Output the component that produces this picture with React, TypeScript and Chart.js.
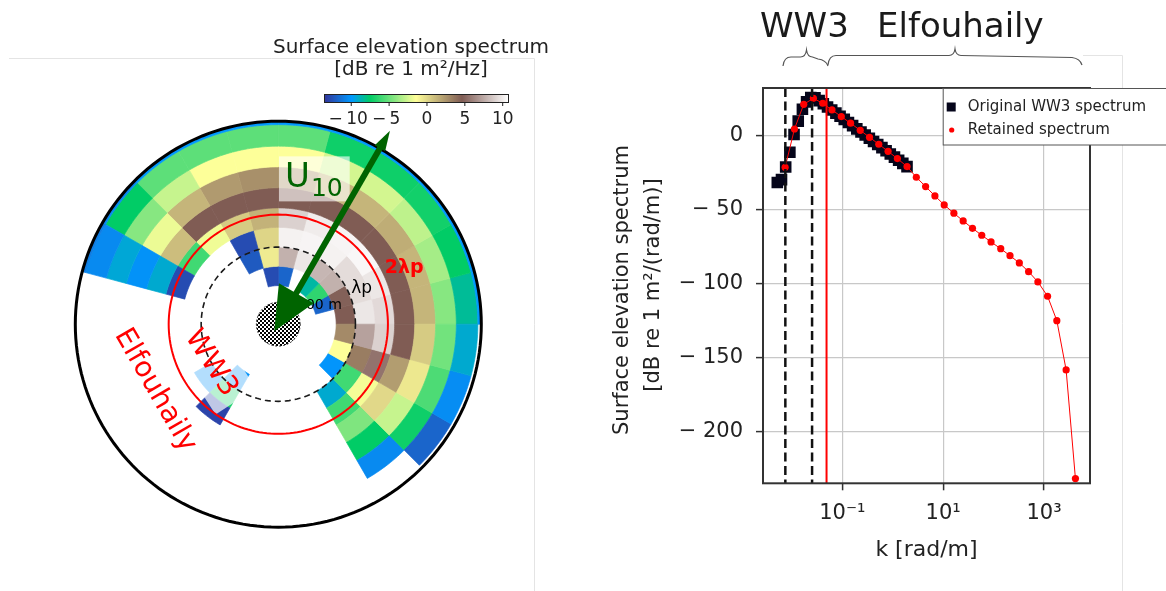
import React, { useEffect, useRef } from 'react';
import { Chart, registerables } from 'chart.js';

Chart.register(...registerables);

const FONT = '"DejaVu Sans", Verdana, sans-serif';

// ---------------- Right panel: omnidirectional spectrum ----------------
const ww3K = [0.005129, 0.006209, 0.007516, 0.009099, 0.011015, 0.013335, 0.016144, 0.019543, 0.023659, 0.028642, 0.034674, 0.041976, 0.050816, 0.061518, 0.074473, 0.090157, 0.10914, 0.13213, 0.15996, 0.19364, 0.23442, 0.28379, 0.34356, 0.41591, 0.5035, 0.60954, 0.7379, 0.89331, 1.0814, 1.3092, 1.5849, 1.9187];
const ww3Db = [-31.5, -29.5, -21.0, -11.0, 1.0, 10.0, 18.0, 23.0, 26.0, 25.8, 23.9, 21.8, 19.6, 17.5, 15.4, 13.3, 11.2, 9.1, 7.0, 4.8, 2.7, 0.6, -1.6, -3.7, -5.8, -7.9, -10.0, -12.2, -14.3, -16.4, -18.5, -20.7];
const retainedK = [0.00733, 0.01122, 0.01715, 0.02667, 0.04074, 0.06223, 0.0953, 0.1456, 0.2264, 0.3459, 0.5284, 0.8072, 1.236, 1.922, 2.937, 4.487, 6.866, 10.49, 16.32, 24.93, 38.16, 58.3, 89.1, 138.7, 211.9, 324.3, 495.5, 757.2, 1178, 1800, 2752, 4207];
const retainedDb = [-21.2, 4.7, 21.4, 25.4, 22.1, 17.6, 13.1, 8.6, 3.8, -0.9, -5.6, -10.4, -15.3, -20.7, -27.9, -34.2, -40.5, -46.6, -52.2, -57.4, -62.4, -67.1, -71.6, -76.2, -80.9, -85.8, -91.7, -98.6, -108.3, -124.8, -158.1, -231.5];
const ww3CutoffK = [0.0074, 0.0251];
const peakK = 0.0486;
const kRange = [0.002667, 8185];
const dbRange = [-234.7, 32.4];
const kTicks = [0.1, 10, 1000];
const kTickLabels = ['10⁻¹', '10¹', '10³'];
const dbTicks = [-200, -150, -100, -50, 0];
const dbTickLabels = ['− 200', '− 150', '− 100', '− 50', '0'];
const seriesLabels = ['Original WW3 spectrum', 'Retained spectrum'];
const modelLabels = ['WW3', 'Elfouhaily'];

// ---------------- Left panel: directional spectrum ----------------
const N = null;
const directionBinDeg = 15;
const ringEdges = [0.19, 0.285, 0.38, 0.477, 0.573, 0.672, 0.775, 0.877, 0.983, 1.08];
// rows: direction bins starting at 0 deg (east), counter-clockwise; columns: rings inner -> outer
const spectrumDb = [
  [N, 4.6, 9.8, 9.3, 4.6, 1.3, -4.3, -8.3, -10],
  [-11.8, 4.8, 9.4, 9.8, 4.6, 1.3, -3.6, -7.5, -10],
  [-6.4, 7.8, 9.4, 10.4, 4.6, 1.6, -3, -7.1, -10],
  [-8.5, 8.0, 10.2, 10.3, 4.6, 1.3, -2.5, -7.2, -10],
  [N, 9.8, 10.3, 10.0, 4.6, 1.3, -2.5, -7.2, -10],
  [-11.8, 7.8, 10.2, 9.0, 4.6, 2.3, -1.5, -5.3, -10],
  [-12.7, -0.7, 0.1, 1.4, 4.6, 2.7, -1.5, -5.3, -10],
  [N, -12.2, -12.7, 0.5, 4.6, 2.3, -1.5, -5.3, -10],
  [N, N, N, -1.8, 4.6, 1.3, -2.8, -5.3, -10],
  [N, N, N, -6, 1.0, -1.9, -4.3, -7.5, -10.5],
  [N, N, N, -12.7, -9.2, -10.2, -9.3, -10.5, -11],
  [N, N, N, N, N, N, N, N, N],
  [N, N, N, N, N, N, N, N, N],
  [N, N, N, N, N, N, N, N, N],
  [N, N, -10.2, N, N, N, N, N, N],
  [N, -10.2, -7, -13, N, N, N, N, N],
  [N, N, N, N, N, N, N, N, N],
  [N, N, N, N, N, N, N, N, N],
  [N, N, N, N, N, N, N, N, N],
  [N, N, N, N, N, N, N, N, N],
  [N, N, -9.2, -6, -4.5, -7.5, -10.5, N, N],
  [N, -10.1, -6, -1.7, 0, -2.8, -7.2, -11.8, N],
  [N, -1.5, 3.4, 5.5, 2.2, -0.6, -5.7, -10.4, N],
  [N, 2.9, 7.2, 9.0, 4.6, 0.5, -4.8, -9.2, N],
];
const colorbarRange = [-13.6, 10.7];
const colorbarTicks = [-10, -5, 0, 5, 10];
const colorbarTickLabels = ['−\u200910', '−\u20095', '0', '5', '10'];
const colorbarTitle = ['Surface elevation spectrum', '[dB re 1 m²/Hz]'];
const terrainStops = [
  [0, 0.2, 0.2, 0.6],
  [0.15, 0.0, 0.6, 1.0],
  [0.25, 0.0, 0.8, 0.4],
  [0.5, 1.0, 1.0, 0.6],
  [0.75, 0.5, 0.36, 0.33],
  [1.0, 1.0, 1.0, 1.0],
];
const lambdaPRadius = 0.38;
const twoLambdaPRadius = 0.54;
const hatchRadius = 0.108;
const windFromDeg = 60;
const arrowTailR = 1.1;
const arrowTipR = 0.04;

function terrain(v) {
  const lo = colorbarRange[0], hi = colorbarRange[1];
  let t = (v - lo) / (hi - lo);
  t = Math.max(0, Math.min(1, t));
  for (let i = 1; i < terrainStops.length; i++) {
    const a = terrainStops[i - 1], b = terrainStops[i];
    if (t <= b[0]) {
      const f = (t - a[0]) / (b[0] - a[0]);
      const c = [1, 2, 3].map((k) => Math.round(255 * (a[k] + (b[k] - a[k]) * f)));
      return 'rgb(' + c[0] + ',' + c[1] + ',' + c[2] + ')';
    }
  }
  return 'rgb(255,255,255)';
}

const polarPlugin = {
  id: 'polarSpectrum',
  afterDraw(chart) {
    const ctx = chart.ctx;
    const xs = chart.scales.x, ys = chart.scales.y;
    const Q = (x, y) => [xs.getPixelForValue(x), ys.getPixelForValue(y)];
    const P = (r, deg) => {
      const a = (deg * Math.PI) / 180;
      return Q(r * Math.cos(a), r * Math.sin(a));
    };
    const ring = (r) => {
      ctx.beginPath();
      for (let a = 0; a <= 360; a += 2) {
        const p = P(r, a);
        if (a === 0) ctx.moveTo(p[0], p[1]); else ctx.lineTo(p[0], p[1]);
      }
      ctx.closePath();
    };
    ctx.save();
    // panel frame
    ctx.strokeStyle = '#e4e4e4';
    ctx.lineWidth = 1;
    ctx.beginPath();
    ctx.moveTo(9, 58.5); ctx.lineTo(534.5, 58.5); ctx.lineTo(534.5, 591);
    ctx.stroke();

    // spectral cells
    spectrumDb.forEach((row, d) => {
      row.forEach((v, j) => {
        if (v === null) return;
        const r0 = ringEdges[j];
        const r1 = Math.min(ringEdges[j + 1], 1);
        const a0 = d * directionBinDeg, a1 = a0 + directionBinDeg;
        ctx.beginPath();
        for (let a = a0; a <= a1; a += 1) {
          const p = P(r1, a);
          if (a === a0) ctx.moveTo(p[0], p[1]); else ctx.lineTo(p[0], p[1]);
        }
        for (let a = a1; a >= a0; a -= 1) {
          const p = P(r0, a);
          ctx.lineTo(p[0], p[1]);
        }
        ctx.closePath();
        const col = terrain(v);
        ctx.fillStyle = col;
        ctx.fill();
        ctx.strokeStyle = col;
        ctx.lineWidth = 0.7;
        ctx.stroke();
      });
    });

    // U10 label box
    const u = Q(0.033, 0.674);
    ctx.font = '34px ' + FONT;
    const uw = ctx.measureText('U').width;
    ctx.font = '25px ' + FONT;
    const sw = ctx.measureText('10').width;
    ctx.fillStyle = 'rgba(255,255,255,0.62)';
    ctx.fillRect(u[0] - 6, u[1] - 31, uw + sw + 14, 45);

    // WW3 label box (rotated)
    const ww = Q(-0.332, -0.192);
    ctx.font = '28px ' + FONT;
    const wwW = ctx.measureText(modelLabels[0]).width;
    ctx.save();
    ctx.translate(ww[0], ww[1]);
    ctx.rotate((57 * Math.PI) / 180);
    ctx.fillStyle = 'rgba(255,255,255,0.7)';
    ctx.fillRect(-wwW / 2 - 9, -24, wwW + 18, 48);
    ctx.restore();

    // reference circles
    ctx.lineWidth = 2;
    ctx.strokeStyle = '#ff0000';
    ring(twoLambdaPRadius);
    ctx.stroke();
    ctx.setLineDash([6, 4]);
    ctx.lineWidth = 1.6;
    ctx.strokeStyle = '#1a1a1a';
    ring(lambdaPRadius);
    ctx.stroke();
    ctx.setLineDash([]);
    ctx.lineWidth = 3;
    ctx.strokeStyle = '#000';
    ring(1);
    ctx.stroke();

    // hatched centre
    const pc = document.createElement('canvas');
    pc.width = 4; pc.height = 4;
    const g = pc.getContext('2d');
    g.fillStyle = '#fff'; g.fillRect(0, 0, 4, 4);
    g.fillStyle = '#000'; g.fillRect(0, 0, 2, 2); g.fillRect(2, 2, 2, 2);
    ctx.fillStyle = ctx.createPattern(pc, 'repeat');
    ring(hatchRadius);
    ctx.fill();
    ctx.setLineDash([2, 2]);
    ctx.lineWidth = 1;
    ctx.strokeStyle = '#333';
    ctx.stroke();
    ctx.setLineDash([]);

    // labels
    ctx.fillStyle = '#006400';
    ctx.textAlign = 'left';
    ctx.textBaseline = 'alphabetic';
    ctx.font = '34px ' + FONT;
    ctx.fillText('U', u[0], u[1]);
    ctx.font = '25px ' + FONT;
    ctx.fillText('10', u[0] + uw + 1, u[1] + 9);

    ctx.fillStyle = '#000';
    ctx.font = '14px ' + FONT;
    ctx.textBaseline = 'middle';
    const m5 = Q(0.092, 0.095);
    ctx.fillText('500 m', m5[0], m5[1]);

    ctx.textAlign = 'center';
    ctx.font = '17px ' + FONT;
    const lp = Q(0.411, 0.177);
    ctx.fillText('λp', lp[0], lp[1]);
    ctx.fillStyle = '#ff0000';
    ctx.font = 'bold 19px ' + FONT;
    const l2 = Q(0.62, 0.275);
    ctx.fillText('2λp', l2[0], l2[1]);

    ctx.font = '28px ' + FONT;
    const el = Q(-0.607, -0.326);
    ctx.save();
    ctx.translate(el[0], el[1]);
    ctx.rotate((60 * Math.PI) / 180);
    ctx.fillText(modelLabels[1], 0, 0);
    ctx.restore();
    ctx.save();
    ctx.translate(ww[0], ww[1]);
    ctx.rotate((57 * Math.PI) / 180);
    ctx.fillText(modelLabels[0], 0, 0);
    ctx.restore();

    // wind arrow
    const tail = P(arrowTailR, windFromDeg);
    const tip = P(arrowTipR, windFromDeg + 180);
    const dx = tip[0] - tail[0], dy = tip[1] - tail[1];
    const L = Math.hypot(dx, dy);
    const ux = dx / L, uy = dy / L, nx = -uy, ny = ux;
    const headLen = 44, headHalf = 20, tailLen = 20, tailHalf = 6;
    ctx.strokeStyle = '#006400';
    ctx.fillStyle = '#006400';
    ctx.lineWidth = 6;
    ctx.beginPath();
    ctx.moveTo(tail[0] + ux * tailLen * 0.8, tail[1] + uy * tailLen * 0.8);
    ctx.lineTo(tip[0] - ux * headLen * 0.9, tip[1] - uy * headLen * 0.9);
    ctx.stroke();
    ctx.beginPath();
    ctx.moveTo(tip[0], tip[1]);
    ctx.lineTo(tip[0] - ux * headLen + nx * headHalf, tip[1] - uy * headLen + ny * headHalf);
    ctx.lineTo(tip[0] - ux * headLen - nx * headHalf, tip[1] - uy * headLen - ny * headHalf);
    ctx.closePath();
    ctx.fill();
    ctx.beginPath();
    ctx.moveTo(tail[0], tail[1]);
    ctx.lineTo(tail[0] + ux * tailLen + nx * tailHalf, tail[1] + uy * tailLen + ny * tailHalf);
    ctx.lineTo(tail[0] + ux * tailLen - nx * tailHalf, tail[1] + uy * tailLen - ny * tailHalf);
    ctx.closePath();
    ctx.fill();

    // colorbar
    const cbL = 324, cbT = 94, cbW = 184, cbH = 8;
    const lo = colorbarRange[0], hi = colorbarRange[1];
    for (let i = 0; i < cbW; i++) {
      ctx.fillStyle = terrain(lo + ((i + 0.5) / cbW) * (hi - lo));
      ctx.fillRect(cbL + i, cbT, 1.5, cbH);
    }
    ctx.strokeStyle = '#222';
    ctx.lineWidth = 1;
    ctx.strokeRect(cbL + 0.5, cbT + 0.5, cbW, cbH);
    ctx.fillStyle = '#222';
    ctx.font = '17px ' + FONT;
    ctx.textAlign = 'center';
    ctx.textBaseline = 'middle';
    colorbarTicks.forEach((v, i) => {
      const X = cbL + ((v - lo) / (hi - lo)) * cbW;
      ctx.beginPath();
      ctx.moveTo(X, cbT + cbH); ctx.lineTo(X, cbT + cbH + 4);
      ctx.stroke();
      ctx.fillText(colorbarTickLabels[i], X - (v < 0 ? 3 : 0), 120);
    });
    ctx.font = '20px ' + FONT;
    ctx.fillText(colorbarTitle[0], 411, 47.5);
    ctx.fillText(colorbarTitle[1], 411, 70);
    ctx.restore();
  },
};

const OFF = 560;

function brace(ctx, x0, x1, xc, yEnd, yFlat, yTip) {
  ctx.beginPath();
  ctx.moveTo(x0, yEnd);
  ctx.quadraticCurveTo(x0 + 1, yFlat, x0 + 8, yFlat);
  ctx.lineTo(xc - 6, yFlat);
  ctx.quadraticCurveTo(xc - 1, yFlat, xc, yTip);
  ctx.quadraticCurveTo(xc + 1, yFlat, xc + 6, yFlat);
  ctx.lineTo(x1 - 10, yFlat + 2);
  ctx.quadraticCurveTo(x1 - 2, yFlat + 3, x1, yEnd);
  ctx.stroke();
}

const spectrumPlugin = {
  id: 'spectrumDecor',
  beforeDraw(chart) {
    const ctx = chart.ctx;
    ctx.save();
    ctx.strokeStyle = '#e4e4e4';
    ctx.lineWidth = 1;
    ctx.beginPath();
    ctx.moveTo(1083 - OFF, 55.5); ctx.lineTo(1122.5 - OFF, 55.5); ctx.lineTo(1122.5 - OFF, 591);
    ctx.stroke();
    ctx.restore();
  },
  afterDatasetsDraw(chart) {
    const ctx = chart.ctx;
    const a = chart.chartArea;
    const xs = chart.scales.x;
    ctx.save();
    ctx.beginPath();
    ctx.rect(a.left, a.top, a.right - a.left, a.bottom - a.top);
    ctx.clip();
    ctx.strokeStyle = '#111';
    ctx.lineWidth = 2.5;
    ctx.setLineDash([9, 4.5]);
    ww3CutoffK.forEach((k) => {
      const X = xs.getPixelForValue(k);
      ctx.beginPath(); ctx.moveTo(X, a.top); ctx.lineTo(X, a.bottom); ctx.stroke();
    });
    ctx.setLineDash([]);
    ctx.strokeStyle = '#ff0000';
    ctx.lineWidth = 2;
    const Xp = xs.getPixelForValue(peakK);
    ctx.beginPath(); ctx.moveTo(Xp, a.top); ctx.lineTo(Xp, a.bottom); ctx.stroke();
    ctx.restore();
    ctx.save();
    ctx.strokeStyle = '#333';
    ctx.lineWidth = 2;
    ctx.strokeRect(a.left, a.top, a.right - a.left, a.bottom - a.top);
    ctx.restore();
  },
  afterDraw(chart) {
    const ctx = chart.ctx;
    const a = chart.chartArea;
    ctx.save();
    // legend
    const lx = 942.7 - OFF, ly = 88.5;
    ctx.fillStyle = '#fff';
    ctx.fillRect(lx, ly, 260, 56.5);
    ctx.strokeStyle = '#555';
    ctx.lineWidth = 1;
    ctx.strokeRect(lx + 0.5, ly, 260, 56.5);
    const ds = chart.data.datasets;
    ctx.fillStyle = ds[1].backgroundColor;
    ctx.fillRect(lx + 4, 107 - 4.5, 9, 9);
    ctx.fillStyle = ds[0].backgroundColor;
    ctx.beginPath(); ctx.arc(lx + 9, 130, 2.6, 0, Math.PI * 2); ctx.fill();
    ctx.fillStyle = '#222';
    ctx.font = '15px ' + FONT;
    ctx.textAlign = 'left';
    ctx.textBaseline = 'middle';
    ctx.fillText(ds[1].label, lx + 25, 107);
    ctx.fillText(ds[0].label, lx + 25, 130);

    // axis titles
    ctx.textAlign = 'center';
    ctx.font = '21px ' + FONT;
    ctx.save();
    ctx.translate(623 - OFF, 290);
    ctx.rotate(-Math.PI / 2);
    ctx.fillText('Surface elevation spectrum', 0, 0);
    ctx.restore();
    ctx.save();
    ctx.translate(654 - OFF, 285);
    ctx.rotate(-Math.PI / 2);
    ctx.fillText('[dB re 1 m²/(rad/m)]', 0, 0);
    ctx.restore();
    ctx.font = '22px ' + FONT;
    ctx.fillText('k [rad/m]', (a.left + a.right) / 2, 550);

    // model annotations
    ctx.fillStyle = '#1a1a1a';
    ctx.font = '34px ' + FONT;
    ctx.textAlign = 'left';
    ctx.textBaseline = 'alphabetic';
    ctx.fillText(modelLabels[0], 760 - OFF, 37);
    ctx.fillText(modelLabels[1], 877 - OFF, 37);
    ctx.strokeStyle = '#555';
    ctx.lineWidth = 1.2;
    brace(ctx, 783 - OFF, 828 - OFF, 806.5 - OFF, 66, 57, 50);
    brace(ctx, 828 - OFF, 1082 - OFF, 955 - OFF, 65, 55.5, 49);
    ctx.restore();
  },
};

export default function App() {
  const leftRef = useRef(null);
  const rightRef = useRef(null);

  useEffect(() => {
    document.body.style.margin = '0';
    const left = new Chart(leftRef.current, {
      type: 'scatter',
      data: { datasets: [] },
      options: {
        animation: false,
        responsive: false,
        devicePixelRatio: 1,
        events: [],
        layout: { padding: { left: 75.3, right: 78.7, top: 121.2, bottom: 63.8 } },
        plugins: { legend: { display: false }, tooltip: { enabled: false } },
        scales: {
          x: { type: 'linear', min: -1, max: 1, display: false },
          y: { type: 'linear', min: -1, max: 1, display: false },
        },
      },
      plugins: [polarPlugin],
    });

    const tickFont = { family: FONT, size: 21 };
    const right = new Chart(rightRef.current, {
      type: 'scatter',
      data: {
        datasets: [
          {
            label: seriesLabels[1],
            data: retainedK.map((k, i) => ({ x: k, y: retainedDb[i] })),
            showLine: true,
            borderColor: '#ff0000',
            borderWidth: 1,
            backgroundColor: '#ff0000',
            pointRadius: 3.6,
            pointBorderWidth: 0,
            pointStyle: 'circle',
            order: 1,
          },
          {
            label: seriesLabels[0],
            data: ww3K.map((k, i) => ({ x: k, y: ww3Db[i] })),
            showLine: false,
            backgroundColor: '#05051a',
            borderColor: '#05051a',
            pointStyle: 'rect',
            pointRadius: 8.2,
            pointBorderWidth: 0,
            order: 2,
          },
        ],
      },
      options: {
        animation: false,
        responsive: false,
        devicePixelRatio: 1,
        events: [],
        layout: { padding: { left: 0, right: 76, top: 88, bottom: 0 } },
        plugins: { legend: { display: false }, tooltip: { enabled: false } },
        scales: {
          x: {
            type: 'logarithmic',
            min: kRange[0],
            max: kRange[1],
            afterBuildTicks: (s) => { s.ticks = kTicks.map((v) => ({ value: v })); },
            afterFit: (s) => { s.height = 107.7; },
            ticks: {
              callback: (v, i) => kTickLabels[i],
              font: tickFont,
              color: '#222',
              padding: 11,
              autoSkip: false,
              maxRotation: 0,
            },
            grid: { color: '#c8c8c8', lineWidth: 1.2, tickColor: '#333', tickLength: 7, tickWidth: 1.5 },
            border: { display: false },
          },
          y: {
            type: 'linear',
            min: dbRange[0],
            max: dbRange[1],
            afterBuildTicks: (s) => { s.ticks = dbTicks.map((v) => ({ value: v })); },
            afterFit: (s) => { s.width = 203; },
            ticks: {
              callback: (v, i) => dbTickLabels[i],
              font: tickFont,
              color: '#222',
              padding: 13,
              autoSkip: false,
            },
            grid: { color: '#c8c8c8', lineWidth: 1.2, tickColor: '#333', tickLength: 7, tickWidth: 1.5 },
            border: { display: false },
          },
        },
      },
      plugins: [spectrumPlugin],
    });

    return () => {
      left.destroy();
      right.destroy();
    };
  }, []);

  return (
    <div style={{ position: 'relative', width: 1166, height: 591, background: '#fff', overflow: 'hidden' }}>
      <canvas ref={leftRef} width={560} height={591} style={{ position: 'absolute', left: 0, top: 0 }} />
      <canvas ref={rightRef} width={606} height={591} style={{ position: 'absolute', left: 560, top: 0 }} />
    </div>
  );
}
